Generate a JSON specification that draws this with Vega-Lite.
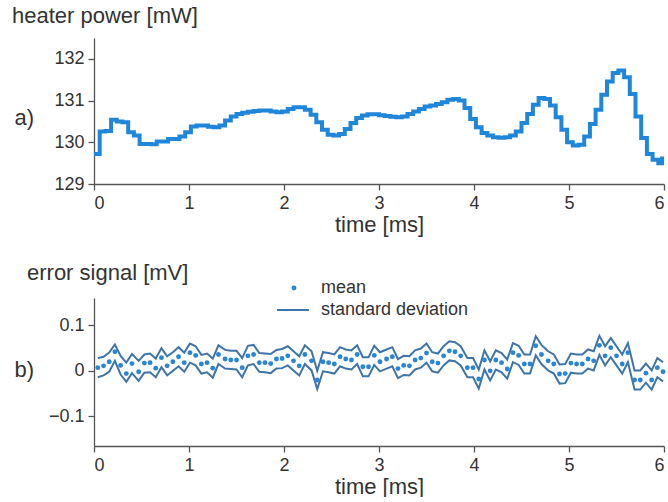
{
  "$schema": "https://vega.github.io/schema/vega-lite/v6.json",
  "padding": {"left": 12, "top": 5, "right": 0, "bottom": 0},
  "autosize": {"type": "pad"},
  "spacing": 27,
  "config": {
    "font": "Liberation Sans",
    "view": {"stroke": null},
    "axis": {"labelFontSize": 18, "titleFontSize": 22, "labelColor": "#333", "titleColor": "#333", "titleFontWeight": "normal", "domainColor": "#555", "tickColor": "#555", "domainWidth": 1.3, "tickWidth": 1.3, "grid": false, "tickSize": 6, "labelPadding": 4},
    "title": {"fontSize": 22, "fontWeight": "normal", "color": "#333", "anchor": "start", "baseline": "alphabetic", "frame": "group"},
    "legend": {"labelFontSize": 18, "labelColor": "#333", "padding": 0}
  },
  "datasets": {
    "heater": [
      {"t":0.00,"P":129.72},{"t":0.06,"P":130.26},{"t":0.12,"P":130.27},{"t":0.18,"P":130.54},{"t":0.24,"P":130.50},{"t":0.30,"P":130.48},{"t":0.36,"P":130.24},{"t":0.42,"P":130.16},{"t":0.48,"P":129.96},{"t":0.54,"P":129.96},
      {"t":0.60,"P":129.95},{"t":0.66,"P":130.02},{"t":0.72,"P":130.02},{"t":0.78,"P":130.08},{"t":0.84,"P":130.08},{"t":0.90,"P":130.14},{"t":0.96,"P":130.24},{"t":1.02,"P":130.38},{"t":1.08,"P":130.40},{"t":1.14,"P":130.40},
      {"t":1.20,"P":130.37},{"t":1.26,"P":130.36},{"t":1.32,"P":130.40},{"t":1.38,"P":130.52},{"t":1.44,"P":130.62},{"t":1.50,"P":130.68},{"t":1.56,"P":130.71},{"t":1.62,"P":130.73},{"t":1.68,"P":130.75},{"t":1.74,"P":130.76},
      {"t":1.80,"P":130.76},{"t":1.86,"P":130.74},{"t":1.92,"P":130.72},{"t":1.98,"P":130.74},{"t":2.04,"P":130.80},{"t":2.10,"P":130.84},{"t":2.16,"P":130.84},{"t":2.22,"P":130.78},{"t":2.28,"P":130.66},{"t":2.34,"P":130.48},
      {"t":2.40,"P":130.30},{"t":2.46,"P":130.18},{"t":2.52,"P":130.16},{"t":2.58,"P":130.20},{"t":2.64,"P":130.32},{"t":2.70,"P":130.46},{"t":2.76,"P":130.58},{"t":2.82,"P":130.64},{"t":2.88,"P":130.67},{"t":2.94,"P":130.67},
      {"t":3.00,"P":130.65},{"t":3.06,"P":130.63},{"t":3.12,"P":130.61},{"t":3.18,"P":130.60},{"t":3.24,"P":130.62},{"t":3.30,"P":130.68},{"t":3.36,"P":130.74},{"t":3.42,"P":130.80},{"t":3.48,"P":130.86},{"t":3.54,"P":130.88},
      {"t":3.60,"P":130.92},{"t":3.66,"P":130.96},{"t":3.72,"P":131.02},{"t":3.78,"P":131.04},{"t":3.84,"P":131.00},{"t":3.90,"P":130.82},{"t":3.96,"P":130.56},{"t":4.02,"P":130.36},{"t":4.08,"P":130.22},{"t":4.14,"P":130.16},
      {"t":4.20,"P":130.12},{"t":4.26,"P":130.11},{"t":4.32,"P":130.12},{"t":4.38,"P":130.16},{"t":4.44,"P":130.26},{"t":4.50,"P":130.46},{"t":4.56,"P":130.68},{"t":4.62,"P":130.90},{"t":4.68,"P":131.06},{"t":4.74,"P":131.04},
      {"t":4.80,"P":130.88},{"t":4.86,"P":130.60},{"t":4.92,"P":130.30},{"t":4.98,"P":130.00},{"t":5.04,"P":129.92},{"t":5.10,"P":129.94},{"t":5.16,"P":130.14},{"t":5.22,"P":130.44},{"t":5.28,"P":130.78},{"t":5.34,"P":131.14},
      {"t":5.40,"P":131.46},{"t":5.46,"P":131.66},{"t":5.52,"P":131.72},{"t":5.58,"P":131.56},{"t":5.64,"P":131.16},{"t":5.70,"P":130.62},{"t":5.76,"P":130.10},{"t":5.82,"P":129.72},{"t":5.88,"P":129.58},{"t":5.94,"P":129.50},
      {"t":5.98,"P":129.66}
    ],
    "err": [
      {"t":0.04,"m":0.007,"hi":0.028,"lo":-0.014},{"t":0.10,"m":0.011,"hi":0.031,"lo":-0.010},{"t":0.16,"m":0.020,"hi":0.040,"lo":-0.002},{"t":0.22,"m":0.042,"hi":0.058,"lo":0.022},{"t":0.28,"m":0.012,"hi":0.033,"lo":-0.008},
      {"t":0.34,"m":-0.006,"hi":0.018,"lo":-0.024},{"t":0.40,"m":0.016,"hi":0.037,"lo":-0.005},{"t":0.47,"m":-0.002,"hi":0.022,"lo":-0.022},{"t":0.53,"m":0.017,"hi":0.036,"lo":-0.004},{"t":0.59,"m":0.018,"hi":0.038,"lo":-0.003},
      {"t":0.65,"m":0.006,"hi":0.027,"lo":-0.014},{"t":0.71,"m":0.029,"hi":0.050,"lo":0.008},{"t":0.77,"m":0.011,"hi":0.032,"lo":-0.010},{"t":0.83,"m":0.020,"hi":0.041,"lo":0.000},{"t":0.89,"m":0.031,"hi":0.052,"lo":0.010},
      {"t":0.95,"m":0.018,"hi":0.040,"lo":-0.002},{"t":1.01,"m":0.040,"hi":0.060,"lo":0.018},{"t":1.07,"m":0.034,"hi":0.054,"lo":0.012},{"t":1.13,"m":0.015,"hi":0.035,"lo":-0.006},{"t":1.19,"m":0.018,"hi":0.038,"lo":-0.003},
      {"t":1.25,"m":0.006,"hi":0.027,"lo":-0.015},{"t":1.31,"m":0.036,"hi":0.056,"lo":0.015},{"t":1.38,"m":0.026,"hi":0.046,"lo":0.005},{"t":1.44,"m":0.024,"hi":0.044,"lo":0.004},{"t":1.50,"m":0.024,"hi":0.044,"lo":0.003},
      {"t":1.56,"m":0.007,"hi":0.028,"lo":-0.014},{"t":1.62,"m":0.033,"hi":0.055,"lo":0.012},{"t":1.68,"m":0.036,"hi":0.057,"lo":0.015},{"t":1.74,"m":0.018,"hi":0.039,"lo":-0.002},{"t":1.80,"m":0.018,"hi":0.038,"lo":-0.003},
      {"t":1.86,"m":0.016,"hi":0.037,"lo":-0.005},{"t":1.92,"m":0.026,"hi":0.046,"lo":0.005},{"t":1.98,"m":0.027,"hi":0.048,"lo":0.006},{"t":2.04,"m":0.033,"hi":0.054,"lo":0.012},{"t":2.10,"m":0.022,"hi":0.043,"lo":0.001},
      {"t":2.16,"m":0.011,"hi":0.032,"lo":-0.010},{"t":2.22,"m":0.036,"hi":0.056,"lo":0.015},{"t":2.29,"m":0.022,"hi":0.043,"lo":0.001},{"t":2.35,"m":-0.020,"hi":0.000,"lo":-0.040},{"t":2.41,"m":0.020,"hi":0.041,"lo":-0.001},
      {"t":2.47,"m":0.018,"hi":0.039,"lo":-0.003},{"t":2.53,"m":0.015,"hi":0.036,"lo":-0.006},{"t":2.59,"m":0.031,"hi":0.052,"lo":0.010},{"t":2.65,"m":0.026,"hi":0.047,"lo":0.005},{"t":2.71,"m":0.024,"hi":0.045,"lo":0.003},
      {"t":2.77,"m":0.036,"hi":0.056,"lo":0.015},{"t":2.83,"m":0.009,"hi":0.030,"lo":-0.012},{"t":2.89,"m":0.009,"hi":0.030,"lo":-0.012},{"t":2.95,"m":0.034,"hi":0.055,"lo":0.013},{"t":3.01,"m":0.020,"hi":0.041,"lo":-0.001},
      {"t":3.08,"m":0.026,"hi":0.047,"lo":0.005},{"t":3.14,"m":0.031,"hi":0.052,"lo":0.010},{"t":3.20,"m":0.005,"hi":0.026,"lo":-0.016},{"t":3.26,"m":0.012,"hi":0.033,"lo":-0.009},{"t":3.32,"m":0.011,"hi":0.032,"lo":-0.010},
      {"t":3.38,"m":0.024,"hi":0.045,"lo":0.003},{"t":3.44,"m":0.028,"hi":0.049,"lo":0.007},{"t":3.50,"m":0.039,"hi":0.060,"lo":0.018},{"t":3.56,"m":0.020,"hi":0.041,"lo":-0.001},{"t":3.62,"m":0.017,"hi":0.038,"lo":-0.004},
      {"t":3.68,"m":0.033,"hi":0.054,"lo":0.012},{"t":3.74,"m":0.044,"hi":0.065,"lo":0.023},{"t":3.80,"m":0.042,"hi":0.063,"lo":0.021},{"t":3.86,"m":0.033,"hi":0.054,"lo":0.012},{"t":3.93,"m":0.007,"hi":0.028,"lo":-0.014},
      {"t":3.99,"m":0.007,"hi":0.028,"lo":-0.014},{"t":4.05,"m":-0.018,"hi":0.003,"lo":-0.039},{"t":4.11,"m":0.024,"hi":0.045,"lo":0.003},{"t":4.17,"m":0.000,"hi":0.021,"lo":-0.021},{"t":4.23,"m":0.024,"hi":0.045,"lo":0.003},
      {"t":4.29,"m":0.018,"hi":0.039,"lo":-0.003},{"t":4.35,"m":0.004,"hi":0.025,"lo":-0.017},{"t":4.41,"m":0.040,"hi":0.061,"lo":0.019},{"t":4.47,"m":0.034,"hi":0.055,"lo":0.013},{"t":4.53,"m":0.015,"hi":0.036,"lo":-0.006},
      {"t":4.59,"m":0.015,"hi":0.036,"lo":-0.006},{"t":4.65,"m":0.055,"hi":0.076,"lo":0.034},{"t":4.71,"m":0.036,"hi":0.057,"lo":0.015},{"t":4.78,"m":0.022,"hi":0.043,"lo":0.001},{"t":4.84,"m":0.015,"hi":0.036,"lo":-0.006},
      {"t":4.90,"m":-0.007,"hi":0.014,"lo":-0.028},{"t":4.96,"m":-0.006,"hi":0.015,"lo":-0.027},{"t":5.02,"m":0.017,"hi":0.038,"lo":-0.004},{"t":5.08,"m":0.015,"hi":0.036,"lo":-0.006},{"t":5.14,"m":0.015,"hi":0.036,"lo":-0.006},
      {"t":5.20,"m":0.026,"hi":0.047,"lo":0.005},{"t":5.26,"m":0.022,"hi":0.043,"lo":0.001},{"t":5.32,"m":0.056,"hi":0.077,"lo":0.035},{"t":5.38,"m":0.033,"hi":0.054,"lo":0.012},{"t":5.44,"m":0.051,"hi":0.072,"lo":0.030},
      {"t":5.50,"m":0.033,"hi":0.054,"lo":0.012},{"t":5.56,"m":0.015,"hi":0.036,"lo":-0.006},{"t":5.62,"m":0.040,"hi":0.061,"lo":0.019},{"t":5.69,"m":-0.020,"hi":0.001,"lo":-0.041},{"t":5.75,"m":-0.020,"hi":0.001,"lo":-0.041},
      {"t":5.81,"m":-0.005,"hi":0.016,"lo":-0.026},{"t":5.87,"m":-0.020,"hi":0.001,"lo":-0.041},{"t":5.93,"m":0.007,"hi":0.028,"lo":-0.014},{"t":5.99,"m":-0.002,"hi":0.019,"lo":-0.023}
    ]
  },
  "vconcat": [
    {
      "width": 570,
      "height": 146,
      "title": {"text": "heater power [mW]", "dx": -82, "offset": 10},
      "data": {"name": "heater"},
      "mark": {"type": "line", "interpolate": "step-after", "color": "#1f86d9", "strokeWidth": 4},
      "encoding": {
        "x": {"field": "t", "type": "quantitative", "scale": {"domain": [0, 6], "nice": false}, "axis": {"values": [0, 1, 2, 3, 4, 5, 6], "format": "d", "title": "time [ms]", "titlePadding": 2}},
        "y": {"field": "P", "type": "quantitative", "scale": {"domain": [129, 132.5], "nice": false, "zero": false}, "axis": {"values": [129, 130, 131, 132], "format": "d", "title": "a)", "titleAngle": 0, "titleX": -80, "titleY": 79, "titleAlign": "left", "titleBaseline": "middle"}}
      }
    },
    {
      "width": 570,
      "height": 148,
      "title": {"text": "error signal [mV]", "dx": -67, "offset": 13},
      "data": {"name": "err"},
      "encoding": {
        "x": {"field": "t", "type": "quantitative", "scale": {"domain": [0, 6], "nice": false}, "axis": {"values": [0, 1, 2, 3, 4, 5, 6], "format": "d", "title": "time [ms]", "titlePadding": 2}}
      },
      "layer": [
        {
          "mark": {"type": "line", "strokeWidth": 2},
          "encoding": {
            "y": {"field": "hi", "type": "quantitative", "scale": {"domain": [-0.165, 0.16], "nice": false, "zero": false}, "axis": {"values": [-0.1, 0, 0.1], "format": ".1~f", "title": "b)", "titleAngle": 0, "titleX": -80, "titleY": 71, "titleAlign": "left", "titleBaseline": "middle"}},
            "stroke": {"datum": "standard deviation", "scale": {"range": ["#3f74a8"]}, "legend": {"title": null, "orient": "none", "legendX": 182, "legendY": 255, "symbolType": "stroke", "symbolSize": 1024, "symbolStrokeWidth": 2, "labelOffset": 11}}
          }
        },
        {
          "mark": {"type": "line", "strokeWidth": 2},
          "encoding": {
            "y": {"field": "lo", "type": "quantitative"},
            "stroke": {"datum": "standard deviation"}
          }
        },
        {
          "mark": {"type": "circle", "size": 24, "opacity": 1},
          "encoding": {
            "y": {"field": "m", "type": "quantitative"},
            "fill": {"datum": "mean", "scale": {"range": ["#2a85d2"]}, "legend": {"title": null, "orient": "none", "legendX": 191, "legendY": 241, "symbolType": "circle", "symbolSize": 24, "labelOffset": 18}}
          }
        }
      ]
    }
  ]
}
